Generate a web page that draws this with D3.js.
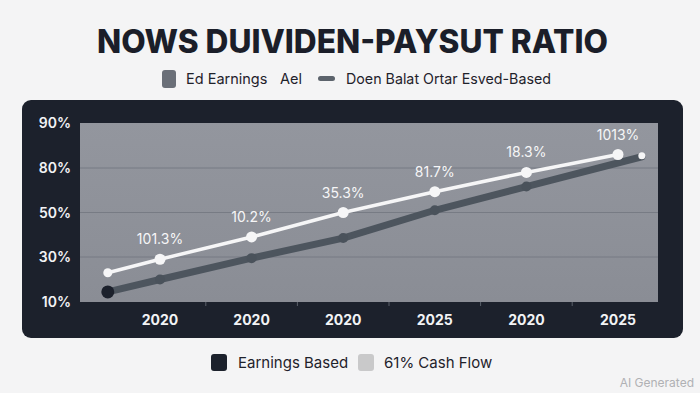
<!DOCTYPE html>
<html>
<head>
<meta charset="utf-8">
<script src="https://cdn.jsdelivr.net/npm/d3@7/dist/d3.min.js"></script>
<style>
  html, body { margin: 0; padding: 0; background: #f4f4f5; }
  svg { display: block; }
</style>
</head>
<body>
<script>
// ---- data ----
const xLabels = ["2020", "2020", "2020", "2025", "2020", "2025"];
const yTicks = [10, 30, 50, 80, 90];
const yTickLabels = ["10%", "30%", "50%", "80%", "90%"];
// x positions as category index (fractional for off-category start/end points)
const cashX = [-0.57, 0, 1, 2, 3, 4, 5];
const cashValues = [23, 29, 39, 50, 64, 77, 83];
const cashLabels = ["", "101.3%", "10.2%", "35.3%", "81.7%", "18.3%", "1013%"];
const earnX = [-0.57, 0, 1, 2, 3, 4, 5.26];
const earnValues = [14.5, 20, 29.5, 38.5, 51.5, 67.5, 82.5];
const title = "NOWS DUIVIDEN-PAYSUT RATIO";
const topLegend = ["Ed Earnings", "Ael", "Doen Balat Ortar Esved-Based"];
const bottomLegend = ["Earnings Based", "61% Cash Flow"];

const W = 700, H = 393;
const svg = d3.select("body").append("svg").attr("width", W).attr("height", H);
const font = "Inter, 'Noto Sans', sans-serif";

svg.append("rect").attr("width", W).attr("height", H).attr("fill", "#f4f4f5");

// title
svg.append("text").attr("x", 97).attr("y", 53)
  .attr("textLength", 511).attr("lengthAdjust", "spacingAndGlyphs")
  .attr("font-family", font).attr("font-weight", 800).attr("font-size", 32)
  .attr("fill", "#1b1e29").text(title);

// top legend
const tl = svg.append("g").attr("font-family", font).attr("font-size", 14.5).attr("fill", "#1f222b");
tl.append("rect").attr("x", 162).attr("y", 70).attr("width", 14).attr("height", 18).attr("rx", 3).attr("fill", "#6a6f78");
tl.append("text").attr("x", 186).attr("y", 84).text(topLegend[0]);
tl.append("text").attr("x", 280).attr("y", 84).text(topLegend[1]);
tl.append("rect").attr("x", 318).attr("y", 76).attr("width", 17).attr("height", 5).attr("rx", 2.5).attr("fill", "#5c636c");
tl.append("text").attr("x", 346).attr("y", 84).attr("textLength", 205).attr("lengthAdjust", "spacingAndGlyphs").text(topLegend[2]);

// dark panel
svg.append("rect").attr("x", 22).attr("y", 100).attr("width", 661).attr("height", 238)
  .attr("rx", 9).attr("fill", "#1c212c");

// plot area
const px0 = 80, px1 = 658, py0 = 123, py1 = 302;
const grad = svg.append("defs").append("linearGradient").attr("id", "pg")
  .attr("x1", 0).attr("x2", 0).attr("y1", 0).attr("y2", 1);
grad.append("stop").attr("offset", 0).attr("stop-color", "#93969e");
grad.append("stop").attr("offset", 1).attr("stop-color", "#8a8d95");
svg.append("rect").attr("x", px0).attr("y", py0).attr("width", px1 - px0).attr("height", py1 - py0)
  .attr("fill", "url(#pg)");

const y = d3.scaleLinear().domain(yTicks).range([302, 257, 212.5, 168, 123]);
const x = d3.scaleLinear().domain([0, 5]).range([160, 618]);

// gridlines
svg.append("g").selectAll("line").data(yTicks.slice(1, 4)).join("line")
  .attr("x1", px0).attr("x2", px1).attr("y1", d => y(d)).attr("y2", d => y(d))
  .attr("stroke", "#777b84").attr("stroke-width", 1.2);

// y axis labels
svg.append("g").selectAll("text").data(yTicks).join("text")
  .attr("x", 71).attr("y", d => y(d) + 5).attr("text-anchor", "end")
  .attr("font-family", font).attr("font-size", 14).attr("font-weight", 600).attr("fill", "#f2f3f5")
  .text((d, i) => yTickLabels[i]);

// x axis labels and minor ticks
svg.append("g").selectAll("text").data(xLabels).join("text")
  .attr("x", (d, i) => x(i)).attr("y", 325).attr("text-anchor", "middle")
  .attr("font-family", font).attr("font-size", 14).attr("font-weight", 700).attr("fill", "#f2f3f5")
  .text(d => d);
svg.append("g").selectAll("line").data(d3.range(5)).join("line")
  .attr("x1", d => x(d + 0.5)).attr("x2", d => x(d + 0.5)).attr("y1", py1).attr("y2", py1 + 4)
  .attr("stroke", "#5a606a").attr("stroke-width", 1);

// earnings line (dark)
const earn = earnX.map((d, i) => [x(d), y(earnValues[i])]);
svg.append("path").attr("d", d3.line()(earn)).attr("fill", "none")
  .attr("stroke", "#4d555e").attr("stroke-width", 7).attr("stroke-linejoin", "round").attr("stroke-linecap", "round");
svg.append("g").selectAll("circle").data(earn.slice(1, 6)).join("circle")
  .attr("cx", d => d[0]).attr("cy", d => d[1]).attr("r", 5).attr("fill", "#4a525b");
svg.append("circle").attr("cx", earn[0][0]).attr("cy", earn[0][1]).attr("r", 6.5).attr("fill", "#1c212c");

// cash flow line (white)
const cash = cashX.map((d, i) => [x(d), y(cashValues[i])]);
svg.append("path").attr("d", d3.line()(cash)).attr("fill", "none")
  .attr("stroke", "#f6f6f7").attr("stroke-width", 3.5).attr("stroke-linejoin", "round");
svg.append("g").selectAll("circle").data(cash).join("circle")
  .attr("cx", d => d[0]).attr("cy", d => d[1]).attr("r", (d, i) => i === 0 ? 4.5 : 5.5)
  .attr("fill", "#f6f6f7");
// end dot of the dark line
svg.append("circle").attr("cx", earn[6][0]).attr("cy", earn[6][1] - 1).attr("r", 3.5).attr("fill", "#f6f6f7");

// data labels
svg.append("g").selectAll("text").data(cash).join("text")
  .attr("x", d => d[0]).attr("y", d => d[1] - 15).attr("text-anchor", "middle")
  .attr("font-family", font).attr("font-size", 14).attr("fill", "#f6f6f7")
  .text((d, i) => cashLabels[i]);

// bottom legend
const bl = svg.append("g").attr("font-family", font).attr("font-size", 15).attr("fill", "#1f222b");
bl.append("rect").attr("x", 211).attr("y", 354).attr("width", 16).attr("height", 17).attr("rx", 3).attr("fill", "#1c212c");
bl.append("text").attr("x", 238).attr("y", 368).text(bottomLegend[0]);
bl.append("rect").attr("x", 358).attr("y", 354).attr("width", 16).attr("height", 17).attr("rx", 3).attr("fill", "#c9c9ca");
bl.append("text").attr("x", 384).attr("y", 368).text(bottomLegend[1]);

// watermark
svg.append("text").attr("x", 694).attr("y", 387).attr("text-anchor", "end")
  .attr("font-family", font).attr("font-size", 12).attr("fill", "#b0b1b4").text("AI Generated");
</script>
</body>
</html>
